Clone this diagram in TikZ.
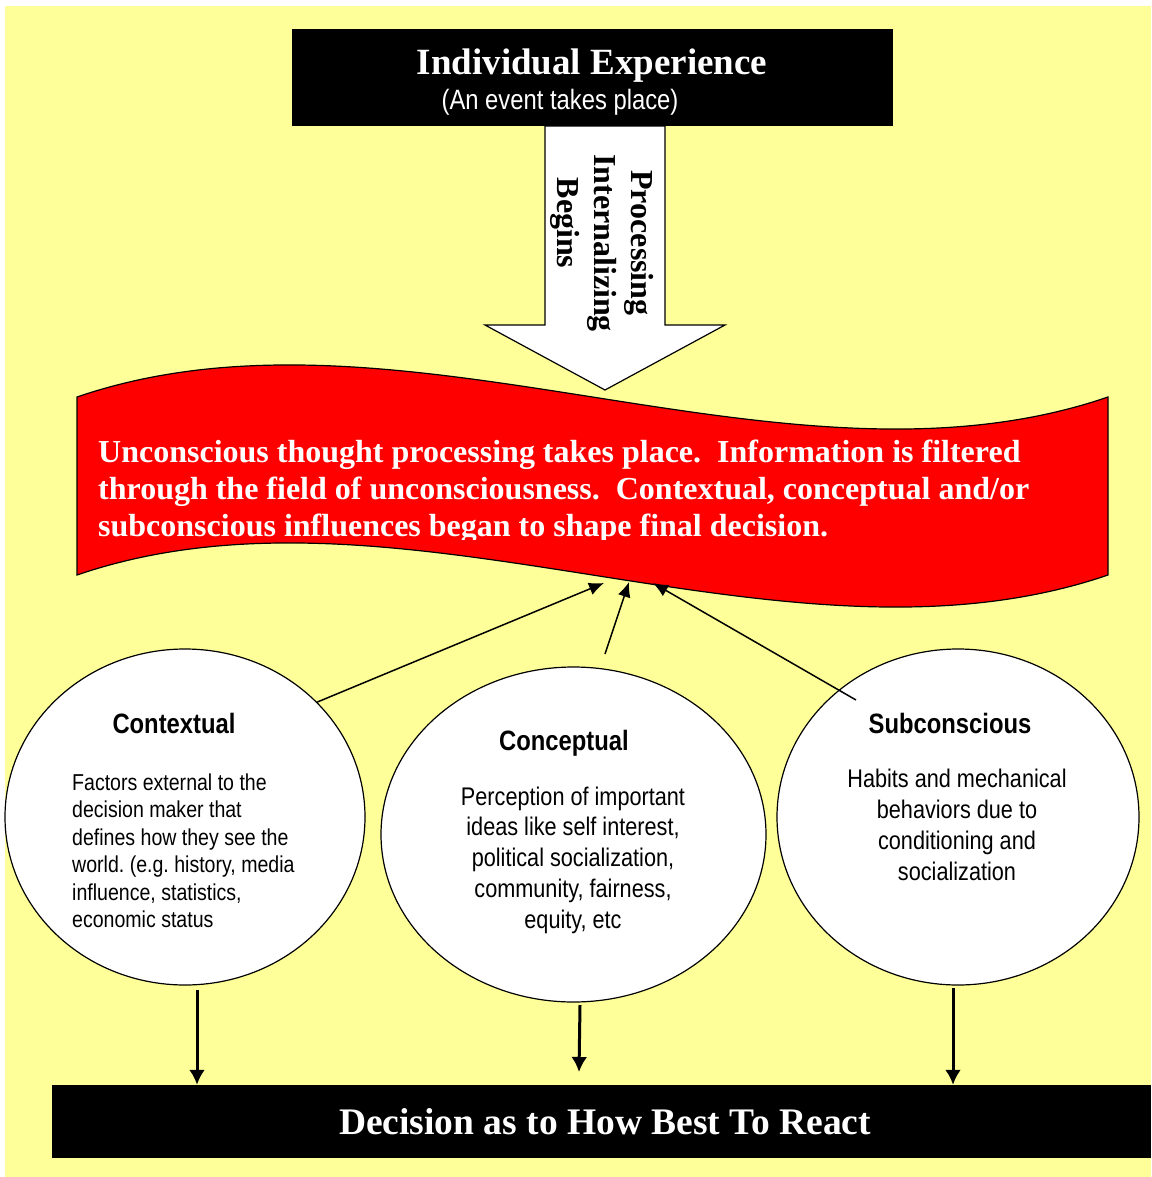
\documentclass[tikz,border=0pt]{standalone}
\usepackage{fontspec}
\setmainfont{Liberation Serif}
\newfontfamily\narrowsans[FakeStretch=0.85]{Liberation Sans}
\usetikzlibrary{shapes.geometric,arrows.meta}

\definecolor{paleyellow}{RGB}{255,255,153}
\definecolor{bannerred}{RGB}{255,0,0}

\tikzset{
  blackbox/.style={fill=black,inner sep=0pt},
  bubble/.style={ellipse,draw,fill=white,line width=1.2pt,inner sep=0pt},
  bubbletitle/.style={anchor=base,inner sep=0pt,font=\narrowsans\bfseries\fontsize{28}{32}\selectfont},
  bubbletext/.style={inner sep=0pt,font=\narrowsans\fontsize{25.5}{30.7}\selectfont},
  uparrow/.style={line width=1.5pt,-{Latex[length=15pt,width=13pt]}},
  downarrow/.style={line width=3pt,-{Latex[length=15pt,width=16pt]}}
}

\begin{document}
\frenchspacing
\begin{tikzpicture}[x=1pt,y=-1pt]

% fundo
\useasboundingbox (0,0) rectangle (1151,1177);
\fill[paleyellow] (5,6) rectangle (1151,1177);

% seta grande
\draw[fill=white,line width=1.2pt] (545,126) -- (545,325) -- (485,325) -- (605,390)
  -- (725,325) -- (665,325) -- (665,126) -- cycle;
\node[rotate=-90,align=center,inner sep=0pt,font=\bfseries\fontsize{32}{37}\selectfont]
  (proc) at (602,243) {Processing\\Internalizing\\Begins\hspace*{40pt}};

% caixa de cima
\node[blackbox,minimum width=601pt,minimum height=97pt] (exp) at (592.5,77.5) {};
\node[anchor=base,text=white,font=\bfseries\fontsize{37}{42}\selectfont]
  (exptitle) at (592,75) {Individual Experience};
\node[anchor=base,text=white,font=\narrowsans\fontsize{28}{32}\selectfont]
  (expsub) at (560,110) {(An event takes place)};

% faixa vermelha
\draw[fill=bannerred,line width=1.2pt] (77,397) .. controls (401,286) and (784,508) .. (1108,397)
  -- (1108,575) .. controls (784,686) and (401,464) .. (77,575) -- cycle;
\begin{scope}
\clip (77,380) rectangle (1108,539);
\node[anchor=base west,align=left,inner sep=0pt,text=white,font=\bfseries\fontsize{32}{37}\selectfont]
  (unconsc) at (98,536) {Unconscious thought processing takes place.~ Information is filtered\\
  through the field of unconsciousness.~ Contextual, conceptual and/or\\
  subconscious influences began to shape final decision.};
\end{scope}

% circulos
\node[bubble,minimum width=360pt,minimum height=336pt] (ctx) at (185,817) {};
\node[bubble,minimum width=385pt,minimum height=335pt] (cpt) at (573.5,834.5) {};
\node[bubble,minimum width=362pt,minimum height=336pt] (sub) at (958,817) {};

\node[bubbletitle] (ctxtitle) at (174,733) {Contextual};
\node[bubbletitle] (cpttitle) at (564,750) {Conceptual};
\node[bubbletitle] (subtitle) at (950,733) {Subconscious};

\node[bubbletext,anchor=base west,align=left,font=\narrowsans\fontsize{23}{27.5}\selectfont]
  (ctxtext) at (72,927.5) {Factors external to the\\decision maker that\\defines how they see the\\
  world. (e.g. history, media\\influence, statistics,\\economic status};
\node[bubbletext,anchor=base,align=center] (cpttext) at (573,928)
  {Perception of important\\ideas like self interest,\\political socialization,\\community, fairness,\\equity, etc};
\node[bubbletext,anchor=base,align=center] (subtext) at (957,880)
  {Habits and mechanical\\behaviors due to\\conditioning and\\socialization};

% caixa de baixo
\node[blackbox,minimum width=1099pt,minimum height=73pt,text=white,font=\bfseries\fontsize{37.5}{42}\selectfont]
  (dec) at (601.5,1121.5) {\hspace*{7pt}Decision as to How Best To React};

% setas para a faixa
\coordinate (in1) at (604,583);
\coordinate (in2) at (629,582);
\coordinate (in3) at (653,583);
\coordinate (cptout) at (605,654);
\coordinate (subout) at (856,700);
\draw[uparrow] (ctx.41) -- (in1);
\draw[uparrow] (cptout) -- (in2);
\draw[uparrow] (subout) -- (in3);

% setas para a decisao
\coordinate (ctxdown) at (197,990);
\coordinate (cptdown) at (580,1005);
\coordinate (cptend) at (579,1072);
\coordinate (subdown) at (953,988);
\draw[downarrow] (ctxdown) -- (ctxdown |- dec.north);
\draw[downarrow] (cptdown) -- (cptend);
\draw[downarrow] (subdown) -- (subdown |- dec.north);

\end{tikzpicture}
\end{document}
